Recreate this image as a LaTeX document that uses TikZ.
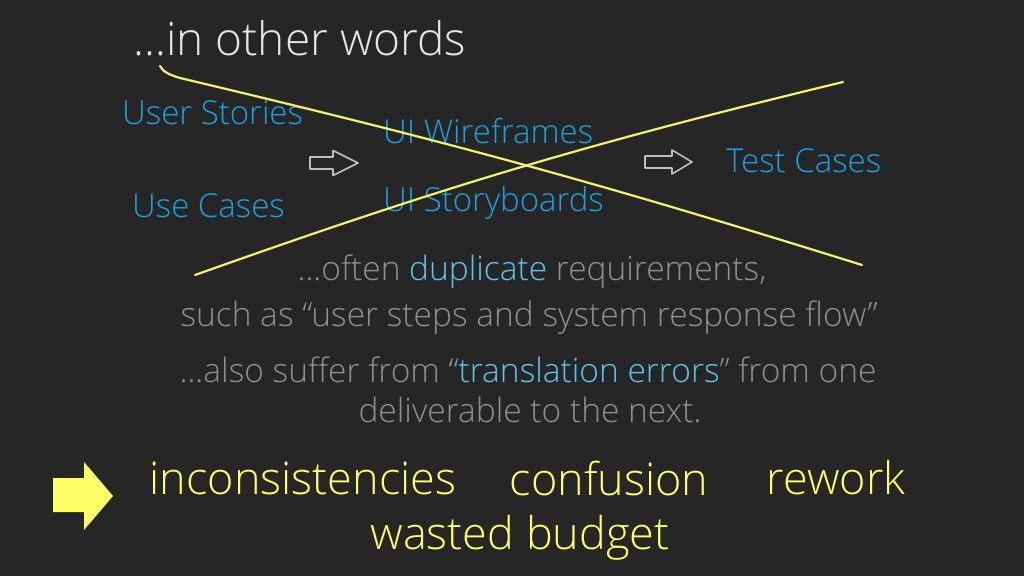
\documentclass[tikz,border=0pt]{standalone}
\usepackage{fontspec}
\setmainfont{Open Sans}[UprightFont=* Light]
\definecolor{bg}{HTML}{262626}
\definecolor{titlec}{HTML}{E6E6E6}
\definecolor{itemblue}{HTML}{1BA1E2}
\definecolor{hiblue}{HTML}{5FC3EE}
\definecolor{greytext}{HTML}{8F8F8F}
\definecolor{yel}{HTML}{FFFF66}
\definecolor{yline}{HTML}{F2F26A}
\begin{document}
\begin{tikzpicture}[x=1pt,y=-1pt,
  item/.style={text=itemblue,font=\fontsize{33}{38}\selectfont,inner sep=0pt,anchor=west},
  body/.style={text=greytext,font=\fontsize{33.5}{38}\selectfont,inner sep=0pt},
  result/.style={text=yel,font=\fontsize{45}{52}\selectfont,inner sep=0pt},
  hollow/.style={draw=white!75!black,line width=1.6pt,line join=round},
  cross/.style={draw=yline,line width=2.2pt,line cap=round}]
\fill[bg] (0,0) rectangle (1024,576);
\useasboundingbox (0,0) rectangle (1024,576);
\node[anchor=base west,text=titlec,font=\fontsize{46}{54}\selectfont,inner sep=0pt] (title) at (133,55) {...in other words};
\node[item] (us) at (122,113) {User Stories};
\node[item] (uc) at (132,206) {Use Cases};
\node[item] (uw) at (383,131) {UI Wireframes};
\node[item] (usb) at (383,203) {UI Storyboards};
\node[item] (tc) at (726,161) {Test Cases};
\coordinate (a1) at (333,163);
\coordinate (a2) at (672,162);
\draw[hollow,shift={(a1)}] (-23,-6) -- (0,-6) -- (0,-12.5) -- (25,0) -- (0,12.5) -- (0,6) -- (-23,6) -- cycle;
\draw[hollow,shift={(a2)}] (-27,-6) -- (0,-6) -- (0,-12) -- (20,0) -- (0,12) -- (0,6) -- (-27,6) -- cycle;
\coordinate (l1s) at (160,66);
\coordinate (l1e) at (862,265);
\coordinate (l2s) at (195,275);
\coordinate (l2e) at (843,82);
\draw[cross] (l1s) .. controls (163,72) and (170,75) .. (180,78) to[bend left=2] (l1e);
\draw[cross] (l2s) to[bend left=3] (l2e);
\node[body] (p1) at (532,272) {...often \textcolor{hiblue}{duplicate} requirements,};
\node[body] (p2) at (529,318) {such as “user steps and system response flow”};
\node[body] (p3) at (528,370) {...also suffer from “\textcolor{hiblue}{translation errors}” from one};
\node[body] (p4) at (530,410) {deliverable to the next.};
\fill[yel] (53,478) -- (84,478) -- (84,462) -- (113,496) -- (84,530) -- (84,512) -- (53,512) -- cycle;
\node[result] (r1) at (303,478) {inconsistencies};
\node[result] (r2) at (609,478) {confusion};
\node[result] (r3) at (836,478) {rework};
\node[result] (r4) at (520,538) {wasted budget};
\end{tikzpicture}
\end{document}
